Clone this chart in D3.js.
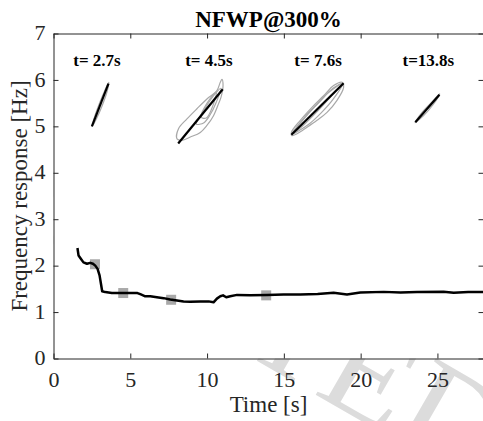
<!DOCTYPE html>
<html>
<head>
<meta charset="utf-8">
<script src="https://cdn.jsdelivr.net/npm/d3@7"></script>
<style>
  body { margin: 0; background: #fff; }
  svg { display: block; }
  text { font-family: "Liberation Serif", "Times New Roman", serif; }
</style>
</head>
<body>
<div class="chart"></div>
<script>
const W = 483, H = 421;
const margin = ({top: 33.5, right: -0.5, bottom: 62.5, left: 53.5});
const width = W - margin.left - margin.right;
const height = H - margin.top - margin.bottom;

// main response curve
const timeVals = [1.56, 1.63, 1.78, 1.95, 2.18, 2.39, 2.57, 2.72, 2.87, 3.0,
  3.09, 3.17, 3.37, 3.8, 4.46, 5.0, 5.47, 5.69, 5.97, 6.3,
  6.73, 7.17, 7.6, 8.04, 8.47, 8.9, 9.56, 10.1, 10.42, 10.64,
  10.86, 11.04, 11.25, 11.51, 11.95, 12.81, 13.9, 14.98, 16.07, 17.2,
  18.24, 19.11, 19.98, 21.5, 22.6, 23.67, 25.4, 26.06, 27.0, 28.0];
const freqVals = [2.38, 2.22, 2.15, 2.07, 2.04, 2.06, 2.04, 2.00, 1.93, 1.79,
  1.61, 1.45, 1.43, 1.41, 1.41, 1.41, 1.41, 1.38, 1.34, 1.34,
  1.32, 1.30, 1.27, 1.25, 1.23, 1.22, 1.23, 1.23, 1.21, 1.29,
  1.34, 1.36, 1.32, 1.34, 1.37, 1.36, 1.37, 1.38, 1.38, 1.39,
  1.415, 1.38, 1.42, 1.435, 1.42, 1.43, 1.44, 1.415, 1.43, 1.435];

// grey square markers at the snapshot times
const markerT = [2.7, 4.54, 7.66, 13.85];
const markerF = [2.03, 1.41, 1.265, 1.36];

// snapshot labels
const snapLabels = ['t= 2.7s', 't= 4.5s', 't= 7.6s', 't=13.8s'];
const snapLabelT = [2.83, 10.12, 17.23, 24.41];
const snapLabelF = 6.3;

// inset phase plots (drawn in axis units): black fit line + grey loops
const inset1Black = [[2.50, 5.00], [3.58, 5.92]];
const inset1Gray = [[[2.50, 5.00], [2.72, 5.25], [3.02, 5.52], [3.35, 5.78], [3.60, 5.95], [3.48, 5.74], [3.16, 5.44], [2.82, 5.18], [2.54, 5.01]]];
const inset2Black = [[8.12, 4.63], [11.02, 5.80]];
const inset2Gray = [
  [[8.04, 4.73], [8.14, 4.95], [8.69, 5.16], [9.34, 5.38], [9.99, 5.59], [10.64, 5.77], [10.86, 5.95], [10.97, 6.01], [11.04, 5.88], [10.91, 5.63], [10.75, 5.49], [10.42, 5.23], [9.99, 5.02], [9.56, 4.87], [8.91, 4.77], [8.36, 4.70]],
  [[9.30, 5.05], [9.80, 5.35], [10.40, 5.65], [10.90, 5.82], [10.60, 5.52], [10.20, 5.25], [9.80, 5.08]],
  [[9.60, 5.20], [10.00, 5.50], [10.60, 5.74], [10.35, 5.42], [9.95, 5.18]]
];
const inset3Black = [[15.49, 4.82], [18.89, 5.93]];
const inset3Gray = [
  [[15.49, 4.87], [16.07, 5.13], [16.83, 5.41], [17.59, 5.66], [18.24, 5.88], [18.79, 5.95], [18.89, 5.84], [18.46, 5.56], [17.81, 5.30], [17.16, 5.13], [16.51, 4.98], [15.86, 4.84], [15.53, 4.80]],
  [[15.50, 4.83], [16.20, 5.12], [17.00, 5.42], [17.80, 5.70], [18.85, 5.93], [18.20, 5.58], [17.40, 5.28], [16.60, 5.04]],
  [[15.60, 4.85], [16.40, 5.22], [17.30, 5.52], [18.20, 5.82], [18.80, 5.92], [18.00, 5.62], [17.20, 5.33], [16.20, 5.00]]
];
const inset4Black = [[23.56, 5.09], [25.13, 5.68]];
const inset4Gray = [[[23.55, 5.08], [24.00, 5.30], [24.60, 5.51], [25.15, 5.70], [24.70, 5.46], [24.10, 5.23], [23.60, 5.09]]];

const xTicks = [0, 5, 10, 15, 20, 25];
const yTicks = [0, 1, 2, 3, 4, 5, 6, 7];

const x = d3.scaleLinear().domain([0, 28]).range([0, width]);
const y = d3.scaleLinear().domain([0, 7]).range([height, 0]);

const svg = d3.select('.chart').append('svg')
    .attr('width', W)
    .attr('height', H);

// faint watermark, only its lower-right end shows below the axes
svg.append('clipPath').attr('id', 'wmclip')
  .append('rect')
    .attr('x', margin.left).attr('y', 0)
    .attr('width', W).attr('height', H);

svg.append('g')
    .attr('clip-path', 'url(#wmclip)')
  .append('text')
    .attr('transform', 'translate(474,486) rotate(30)')
    .attr('text-anchor', 'end')
    .attr('font-size', 140)
    .attr('fill', '#dcdcdc')
    .text('ACCEPTED');

const g = svg.append('g')
    .attr('transform', 'translate(' + margin.left + ',' + margin.top + ')');

g.append('rect')
    .attr('width', width)
    .attr('height', height)
    .attr('fill', '#fff');

// axes, ticks pointing inward, box on all sides
const axisColor = '#262626';
const styleAxis = sel => {
  sel.select('.domain').attr('stroke', axisColor);
  sel.selectAll('.tick line').attr('stroke', axisColor);
  sel.selectAll('.tick text').attr('fill', axisColor).attr('font-size', 22)
      .attr('font-family', '"Liberation Serif", serif');
};

g.append('g')
    .attr('transform', 'translate(0,' + height + ')')
    .call(d3.axisBottom(x).tickValues(xTicks).tickSizeInner(-5).tickSizeOuter(0).tickPadding(13))
    .call(styleAxis);

g.append('g')
    .call(d3.axisTop(x).tickValues(xTicks).tickSizeInner(-5).tickSizeOuter(0).tickFormat(''))
    .call(styleAxis);

g.append('g')
    .call(d3.axisLeft(y).tickValues(yTicks).tickFormat(d3.format('d')).tickSizeInner(-5).tickSizeOuter(0).tickPadding(8))
    .call(styleAxis)
    .selectAll('.tick text').attr('dy', '0.28em');

g.append('g')
    .attr('transform', 'translate(' + width + ',0)')
    .call(d3.axisRight(y).tickValues(yTicks).tickSizeInner(-5).tickSizeOuter(0).tickFormat(''))
    .call(styleAxis);

// insets
const ptLine = d3.line().x(d => x(d[0])).y(d => y(d[1]));
const loopLine = d3.line().x(d => x(d[0])).y(d => y(d[1])).curve(d3.curveCatmullRomClosed.alpha(0.5));

[[inset1Gray, inset1Black], [inset2Gray, inset2Black], [inset3Gray, inset3Black], [inset4Gray, inset4Black]].forEach(([loops, blk]) => {
  loops.forEach(lp => {
    g.append('path')
        .attr('d', loopLine(lp))
        .attr('fill', 'none')
        .attr('stroke', '#a8a8a8')
        .attr('stroke-width', 1.2);
  });
  g.append('path')
      .attr('d', ptLine(blk))
      .attr('fill', 'none')
      .attr('stroke', '#000')
      .attr('stroke-width', 2.2);
});

g.selectAll('.snap')
    .data(snapLabels)
    .enter().append('text')
    .attr('class', 'snap')
    .attr('x', (d, i) => x(snapLabelT[i]))
    .attr('y', y(snapLabelF))
    .attr('text-anchor', 'middle')
    .attr('font-size', 17)
    .attr('font-weight', 'bold')
    .text(d => d);

// markers then line on top
const sq = 10;
g.selectAll('.marker')
    .data(markerT)
    .enter().append('rect')
    .attr('class', 'marker')
    .attr('x', d => x(d) - sq / 2)
    .attr('y', (d, i) => y(markerF[i]) - sq / 2)
    .attr('width', sq)
    .attr('height', sq)
    .attr('fill', '#a9a9a9');

g.append('path')
    .datum(timeVals.map((t, i) => [t, freqVals[i]]))
    .attr('d', ptLine)
    .attr('fill', 'none')
    .attr('stroke', '#000')
    .attr('stroke-width', 2.5)
    .attr('stroke-linejoin', 'round');

// labels
svg.append('text')
    .attr('x', margin.left + width / 2)
    .attr('y', 27)
    .attr('text-anchor', 'middle')
    .attr('font-size', 23)
    .attr('font-weight', 'bold')
    .text('NFWP@300%');

svg.append('text')
    .attr('x', margin.left + width / 2)
    .attr('y', 412)
    .attr('text-anchor', 'middle')
    .attr('font-size', 23)
    .attr('fill', axisColor)
    .text('Time [s]');

svg.append('text')
    .attr('transform', 'translate(27,' + (margin.top + height / 2) + ') rotate(-90)')
    .attr('text-anchor', 'middle')
    .attr('font-size', 23)
    .attr('fill', axisColor)
    .text('Frequency response [Hz]');
</script>
</body>
</html>
